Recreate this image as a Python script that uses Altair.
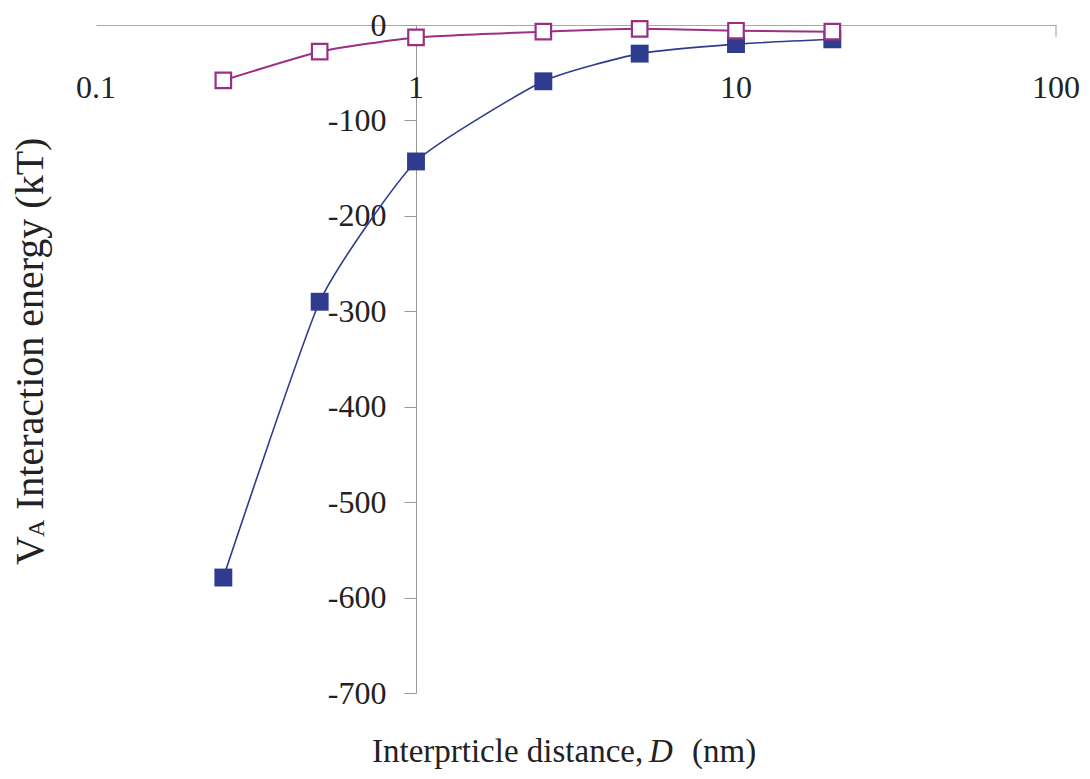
import altair as alt
import pandas as pd

# ---- data ----
distance_nm = [0.25, 0.5, 1, 2.5, 5, 10, 20]
va_series1 = [-579, -290, -143, -59, -30, -20, -15]   # filled blue squares
va_series2 = [-58, -28, -13, -7, -4, -6, -7]           # hollow purple squares

x_tick_values = [0.1, 1, 10, 100]
x_tick_labels = ["0.1", "1", "10", "100"]
y_tick_values = [0, -100, -200, -300, -400, -500, -600, -700]

FONT = "Times New Roman, Liberation Serif, serif"
BLUE = "#2E3B8E"
PURPLE = "#9B3080"
TXT = "#222222"

W, H = 960, 668
PADL = 88
TOTAL_W = 1074

df1 = pd.DataFrame({"D": distance_nm, "V": va_series1})
df2 = pd.DataFrame({"D": distance_nm, "V": va_series2})
xt = pd.DataFrame({"D": x_tick_values, "lab": x_tick_labels})

xs = alt.Scale(type="log", domain=[0.1, 100], nice=False)
ys = alt.Scale(domain=[-700, 0], nice=False, zero=False)

x_axis = alt.Axis(orient="top", labels=False, ticks=False, grid=False, title=None,
                  domainColor="#a8a8a8", domainWidth=1)
y_axis = alt.Axis(values=y_tick_values, offset=-(W / 3.0), grid=False, title=None,
                  labelFont=FONT, labelFontSize=32, labelColor=TXT,
                  labelExpr="'' + datum.value",
                  labelPadding=18, tickSize=12, tickColor="#9a9a9a",
                  domainColor="#9a9a9a", domainWidth=1, tickWidth=1)

base_x = alt.X("D:Q", scale=xs, axis=x_axis)
base_y = alt.Y("V:Q", scale=ys, axis=y_axis)

line1 = alt.Chart(df1).mark_line(color=BLUE, strokeWidth=1.6, interpolate="cardinal",
                                 tension=0.5).encode(x=base_x, y=base_y)
pts1 = alt.Chart(df1).mark_point(shape="square", filled=True, color=BLUE, size=320, opacity=1).encode(
    x="D:Q", y="V:Q")
line2 = alt.Chart(df2).mark_line(color=PURPLE, strokeWidth=2, interpolate="cardinal",
                                 tension=0.5).encode(x="D:Q", y="V:Q")
pts2 = alt.Chart(df2).mark_point(shape="square", filled=True, fill="white", stroke=PURPLE,
                                 strokeWidth=2.2, size=240, opacity=1).encode(
    x="D:Q", y="V:Q")

xlabels = alt.Chart(xt).mark_text(font=FONT, fontSize=32, color=TXT,
                                  align="center", baseline="middle").encode(
    x="D:Q", y=alt.value(63), text="lab:N")

tick100 = alt.Chart(pd.DataFrame({"D": [100], "y0": [0], "y1": [-12.5]})).mark_rule(
    color="#9a9a9a", strokeWidth=1).encode(x="D:Q", y="y0:Q", y2="y1:Q")

# x title with italic D (positions relative to plot origin)
dx = 99 - (8 + PADL)
t1 = alt.Chart(pd.DataFrame({"t": ["Interprticle distance,"]})).mark_text(
    font=FONT, fontSize=33, color=TXT, align="left", baseline="middle").encode(
    x=alt.value(273 + dx), y=alt.value(727), text="t:N")
t2 = alt.Chart(pd.DataFrame({"t": ["D"]})).mark_text(
    font=FONT, fontSize=33, fontStyle="italic", color=TXT, align="left", baseline="middle").encode(
    x=alt.value(550 + dx), y=alt.value(727), text="t:N")
t3 = alt.Chart(pd.DataFrame({"t": ["(nm)"]})).mark_text(
    font=FONT, fontSize=33, color=TXT, align="left", baseline="middle").encode(
    x=alt.value(593 + dx), y=alt.value(727), text="t:N")

# y title with subscript A
y1 = alt.Chart(pd.DataFrame({"t": ["V"]})).mark_text(
    font=FONT, fontSize=40, color=TXT, align="left", baseline="alphabetic", angle=270).encode(
    x=alt.value(-56 + dx), y=alt.value(540), text="t:N")
y2 = alt.Chart(pd.DataFrame({"t": ["A"]})).mark_text(
    font=FONT, fontSize=24, color=TXT, align="left", baseline="alphabetic", angle=270).encode(
    x=alt.value(-55 + dx), y=alt.value(512), text="t:N")
y3 = alt.Chart(pd.DataFrame({"t": ["Interaction energy (kT)"]})).mark_text(
    font=FONT, fontSize=40, color=TXT, align="left", baseline="alphabetic", angle=270).encode(
    x=alt.value(-56 + dx), y=alt.value(485), text="t:N")

chart = alt.layer(line1, pts1, line2, pts2, xlabels, tick100, t1, t2, t3, y1, y2, y3).properties(
    width=W, height=H,
    padding={"left": PADL, "top": 17, "right": TOTAL_W - PADL - W, "bottom": 80},
    autosize=alt.AutoSizeParams(type="none"),
    background="white",
).configure_view(stroke=None)

chart.save("out.html", embed_options={"renderer": "svg", "actions": False})
